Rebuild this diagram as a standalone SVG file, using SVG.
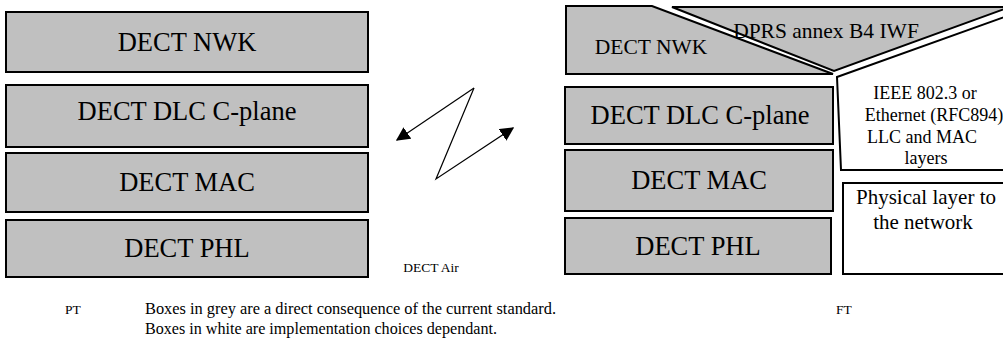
<svg xmlns="http://www.w3.org/2000/svg" width="1003" height="356" viewBox="0 0 1003 356" font-family="'Liberation Serif', 'DejaVu Serif', serif">
<style>
.g{fill:#c0c0c0;stroke:#000;stroke-width:2}
.w{fill:#fff;stroke:#000;stroke-width:2}
text{fill:#000;text-anchor:middle}
.big{font-size:26.5px}
.med{font-size:21.5px}
.sm{font-size:18px}
.ph{font-size:21px}
.lg{font-size:16px;text-anchor:start}
.tiny{font-size:13.5px}
.line{fill:none;stroke:#000;stroke-width:1.2}
</style>
<defs>
<marker id="ah" viewBox="0 0 10 10" refX="9" refY="5" markerWidth="14" markerHeight="14" markerUnits="userSpaceOnUse" orient="auto">
<path d="M0,0 L10,5 L0,10 z" fill="#000"/>
</marker>
</defs>
<rect width="1003" height="356" fill="#fff"/>
<g id="pt-nwk"><rect class="g" x="6" y="12" width="362" height="60"/><text class="big" x="187" y="51">DECT NWK</text></g>
<g id="pt-dlc"><rect class="g" x="6" y="85" width="362" height="62"/><text class="big" x="187" y="120">DECT DLC C-plane</text></g>
<g id="pt-mac"><rect class="g" x="6" y="153" width="362" height="59"/><text class="big" x="187" y="191">DECT MAC</text></g>
<g id="pt-phl"><rect class="g" x="6" y="220" width="362" height="57"/><text class="big" x="187" y="257">DECT PHL</text></g>
<g id="ft-nwk"><path class="g" d="M566,6 L652,6 L833,74 L566,74 Z"/><text class="med" x="651" y="54">DECT NWK</text></g>
<g id="ft-iwf"><path class="g" d="M672,7 L1010,7 L834,71 Z"/><text class="med" x="826" y="38">DPRS annex B4 IWF</text></g>
<g id="ft-ieee"><path class="w" d="M837,77 L1010,15 L1010,170 L841,170 Z"/>
<text class="sm" x="925" y="99">IEEE 802.3 or</text>
<text class="sm" x="934" y="121">Ethernet (RFC894)</text>
<text class="sm" x="922" y="143">LLC and MAC</text>
<text class="sm" x="926" y="164">layers</text></g>
<g id="ft-dlc"><rect class="g" x="565" y="87" width="268" height="57"/><text class="big" x="700" y="124">DECT DLC C-plane</text></g>
<g id="ft-mac"><rect class="g" x="565" y="150" width="268" height="61"/><text class="big" x="699" y="189">DECT MAC</text></g>
<g id="ft-phl"><rect class="g" x="565" y="218" width="266" height="56"/><text class="big" x="698" y="255">DECT PHL</text></g>
<g id="ft-phy"><rect class="w" x="843" y="183" width="170" height="91"/>
<text class="ph" x="926" y="204">Physical layer to</text>
<text class="ph" x="923" y="229">the network</text></g>
<g id="connectors">
<polyline class="line" points="474,88 436,179 513,128" marker-end="url(#ah)"/>
<line class="line" x1="474" y1="88" x2="397" y2="140" marker-end="url(#ah)"/>
</g>
<g id="labels">
<text class="tiny" x="431" y="272">DECT Air</text>
<text class="tiny" x="73" y="314">PT</text>
<text class="tiny" x="844" y="314">FT</text>
<text class="lg" x="145" y="314" textLength="411" lengthAdjust="spacingAndGlyphs">Boxes in grey are a direct consequence of the current standard.</text>
<text class="lg" x="145" y="334" textLength="352" lengthAdjust="spacingAndGlyphs">Boxes in white are implementation choices dependant.</text>
</g>
</svg>
